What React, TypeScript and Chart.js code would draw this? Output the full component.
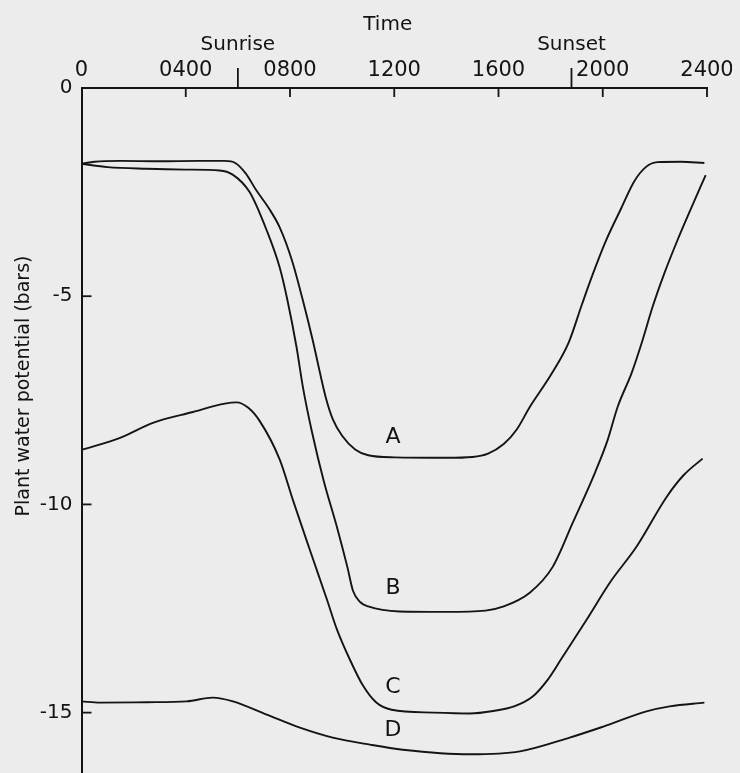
import React, { useEffect, useRef } from "react";
import { Chart, registerables } from "chart.js";

Chart.register(...registerables);

// ---- data (time in hours, plant water potential in bars) ----
const aTime = [0, 0.5, 1.5, 3, 4.5, 5.5, 5.9, 6.3, 6.7, 7.2, 7.6, 8.07, 8.49, 8.87, 9.15, 9.38, 9.64, 10.0, 10.5, 11.0, 12, 14, 15.0, 15.6, 16.2, 16.7, 17.2, 18.0, 18.7, 19.2, 19.6, 20.1, 20.7, 21.2, 21.65, 22.1, 23, 23.9];
const aValue = [-1.82, -1.77, -1.75, -1.76, -1.75, -1.75, -1.8, -2.05, -2.45, -2.9, -3.34, -4.13, -5.09, -6.05, -6.84, -7.45, -7.95, -8.35, -8.68, -8.82, -8.87, -8.88, -8.86, -8.78, -8.55, -8.2, -7.66, -6.9, -6.1, -5.2, -4.5, -3.7, -2.9, -2.25, -1.9, -1.78, -1.77, -1.8];

const bTime = [0, 1, 2.5, 4, 5.3, 5.8, 6.45, 7.1, 7.6, 7.9, 8.25, 8.5, 8.85, 9.3, 9.8, 10.2, 10.42, 10.7, 11.0, 12.2, 14, 15.5, 16.2, 17.2, 18.08, 18.85, 19.7, 20.19, 20.57, 21.11, 21.53, 21.91, 22.37, 22.87, 23.41, 23.95];
const bValue = [-1.82, -1.9, -1.94, -1.96, -1.98, -2.08, -2.5, -3.41, -4.3, -5.09, -6.22, -7.2, -8.28, -9.45, -10.54, -11.5, -12.08, -12.35, -12.45, -12.57, -12.58, -12.55, -12.45, -12.12, -11.5, -10.44, -9.24, -8.45, -7.66, -6.84, -6.05, -5.26, -4.44, -3.65, -2.86, -2.09];

const cTime = [0, 1.48, 2.74, 4.28, 5.5, 5.95, 6.4, 6.84, 7.61, 8.11, 8.76, 9.42, 9.8, 10.3, 10.8, 11.3, 11.9, 13.5, 14.9, 15.8, 16.6, 17.3, 17.9, 18.4, 19.38, 20.27, 21.3, 22.45, 23.1, 23.83];
const cValue = [-8.69, -8.4, -8.04, -7.78, -7.58, -7.55, -7.68, -8.0, -8.93, -9.89, -11.09, -12.29, -13.0, -13.73, -14.35, -14.75, -14.93, -15.0, -15.02, -14.96, -14.85, -14.62, -14.2, -13.72, -12.77, -11.88, -11.01, -9.82, -9.3, -8.9];

const dTime = [0, 0.71, 2.5, 4.04, 5.04, 5.81, 7.11, 8.38, 9.64, 11.07, 12.33, 14.9, 16.82, 18.73, 20.0, 21.68, 22.57, 23.9];
const dValue = [-14.73, -14.76, -14.75, -14.73, -14.64, -14.73, -15.05, -15.36, -15.6, -15.77, -15.89, -16.0, -15.93, -15.6, -15.34, -14.97, -14.85, -14.76];

const seriesNames = ["A", "B", "C", "D"];
const labelTime = 11.95;
const labelValues = [-8.33, -11.97, -14.33, -15.36];

const xTickLabels = ["0", "0400", "0800", "1200", "1600", "2000", "2400"];
const eventNames = ["Sunrise", "Sunset"];
const eventTimes = [6.0, 18.8];
const yTicks = [0, -5, -10, -15];

const xTitle = "Time";
const yTitle = "Plant water potential (bars)";

const INK = "#141414";
const FONT = "'DejaVu Sans', sans-serif";

function pts(t: number[], v: number[]) {
  return t.map((x, i) => ({ x, y: v[i] }));
}

const overlay = {
  id: "overlay",
  afterDraw(chart: any) {
    const { ctx, chartArea } = chart;
    const xs = chart.scales.x;
    const ys = chart.scales.y;
    const { top, left } = chartArea;
    ctx.save();
    ctx.strokeStyle = INK;
    ctx.fillStyle = INK;
    ctx.lineWidth = 1.8;
    for (let i = 1; i < xTickLabels.length; i++) {
      const px = xs.getPixelForValue(i * 4);
      ctx.beginPath();
      ctx.moveTo(px, top);
      ctx.lineTo(px, top + 9);
      ctx.stroke();
    }
    yTicks.forEach((v) => {
      if (v === 0) return;
      const py = ys.getPixelForValue(v);
      ctx.beginPath();
      ctx.moveTo(left, py);
      ctx.lineTo(left + 10, py);
      ctx.stroke();
    });
    ctx.font = `20px ${FONT}`;
    ctx.textAlign = "center";
    ctx.textBaseline = "alphabetic";
    eventTimes.forEach((t, i) => {
      const px = xs.getPixelForValue(t);
      ctx.beginPath();
      ctx.moveTo(px, top - 20);
      ctx.lineTo(px, top);
      ctx.stroke();
      ctx.fillText(eventNames[i], px, top - 38);
    });
    ctx.fillText(xTitle, xs.getPixelForValue(11.75), top - 58);
    ctx.font = `22px ${FONT}`;
    seriesNames.forEach((n, i) => {
      const px = xs.getPixelForValue(labelTime);
      const py = ys.getPixelForValue(labelValues[i]);
      ctx.fillText(n, px, py + 8);
    });
    ctx.font = `19px ${FONT}`;
    ctx.translate(16, 378);
    ctx.rotate(-Math.PI / 2);
    ctx.textBaseline = "middle";
    ctx.fillText(yTitle, 0, 0);
    ctx.restore();
  },
};

export default function App() {
  const ref = useRef<HTMLCanvasElement>(null);
  useEffect(() => {
    document.body.style.background = "#ececec";
    document.body.style.overflow = "hidden";
    document.documentElement.style.overflow = "hidden";
    const mk = (t: number[], v: number[]) => ({
      data: pts(t, v),
      borderColor: INK,
      borderWidth: 1.9,
      pointRadius: 0,
      fill: false,
      cubicInterpolationMode: "monotone" as const,
    });
    const chart = new Chart(ref.current!, {
      type: "line",
      data: {
        datasets: [mk(aTime, aValue), mk(bTime, bValue), mk(cTime, cValue), mk(dTime, dValue)],
      },
      options: {
        animation: false,
        responsive: false,
        devicePixelRatio: 1,
        layout: { padding: { left: 0, right: 33, top: 0, bottom: 0 } },
        plugins: { legend: { display: false }, tooltip: { enabled: false } },
        scales: {
          x: {
            type: "linear",
            position: "top",
            min: 0,
            max: 24,
            grid: { display: false, drawTicks: false },
            border: { display: true, color: INK, width: 2 },
            ticks: {
              stepSize: 4,
              maxRotation: 0,
              autoSkip: false,
              padding: 5,
              color: INK,
              font: { family: FONT, size: 21 },
              callback: (v: any) => xTickLabels[Math.round(Number(v) / 4)] ?? "",
            },
            afterFit: (s: any) => {
              s.height = 80;
              s.paddingLeft = 0;
              s.paddingRight = 0;
            },
          },
          y: {
            type: "linear",
            min: -16.45,
            max: 0,
            grid: { display: false, drawTicks: false },
            border: { display: true, color: INK, width: 2 },
            ticks: {
              stepSize: 5,
              includeBounds: false,
              padding: 9,
              color: INK,
              font: { family: FONT, size: 20 },
              callback: (v: any) => (yTicks.includes(Number(v)) ? String(v) : ""),
            },
            afterFit: (s: any) => {
              s.width = 73.5;
              s.paddingTop = 0;
              s.paddingBottom = 0;
            },
          },
        },
      },
      plugins: [overlay],
    } as any);
    return () => chart.destroy();
  }, []);
  return <canvas ref={ref} width={732} height={765} style={{ display: "block" }} />;
}
